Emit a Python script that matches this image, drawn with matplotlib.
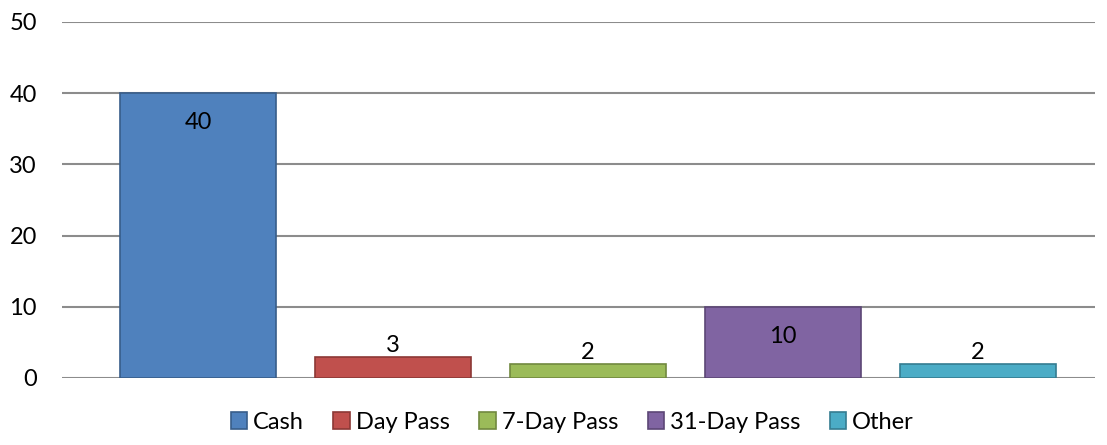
import matplotlib.pyplot as plt
import numpy as np

plt.rcParams['font.family'] = ['Lato', 'DejaVu Sans']

categories = ["Cash", "Day Pass", "7-Day Pass", "31-Day Pass", "Other"]
values = [40, 3, 2, 10, 2]
fills = ["#4F81BD", "#C0504D", "#9BBB59", "#8064A2", "#4BACC6"]
edges = ["#385D8A", "#8C3836", "#71893F", "#5C4776", "#357D91"]

fig = plt.figure(figsize=(11.07, 4.45), dpi=100)
ax = fig.add_axes([0.056, 0.1506, 0.933, 0.8])

x = np.arange(len(categories))
bars = ax.bar(x, values, width=0.8, color=fills, edgecolor=edges, linewidth=1.2,
              zorder=3, label=categories)

# data labels: inside the top for tall bars, above for short ones
for xi, v in zip(x, values):
    if v > 5:
        ax.annotate(str(v), (xi, v), xytext=(0, -19), textcoords="offset pixels",
                    ha="center", va="top", fontsize=17, color="black")
    else:
        ax.annotate(str(v), (xi, v), xytext=(0, 1), textcoords="offset pixels",
                    ha="center", va="bottom", fontsize=17, color="black")

ax.set_ylim(0, 50)
ax.set_yticks([0, 10, 20, 30, 40, 50])
ax.set_xlim(-0.7, 4.6)
ax.set_xticks([])
ax.yaxis.grid(True, color="#8C8C8C", linewidth=1.5, zorder=0)
for s in ax.spines.values():
    s.set_visible(False)
ax.tick_params(axis="y", length=0, labelsize=17, pad=18)

fig.legend(handles=bars.patches, labels=categories, loc="lower center", ncol=5,
           bbox_to_anchor=(0.517, -0.02), frameon=False, fontsize=17,
           handlelength=0.7, handleheight=0.7, handletextpad=0.25, columnspacing=1.25)

fig.savefig("out.png", dpi=100)
